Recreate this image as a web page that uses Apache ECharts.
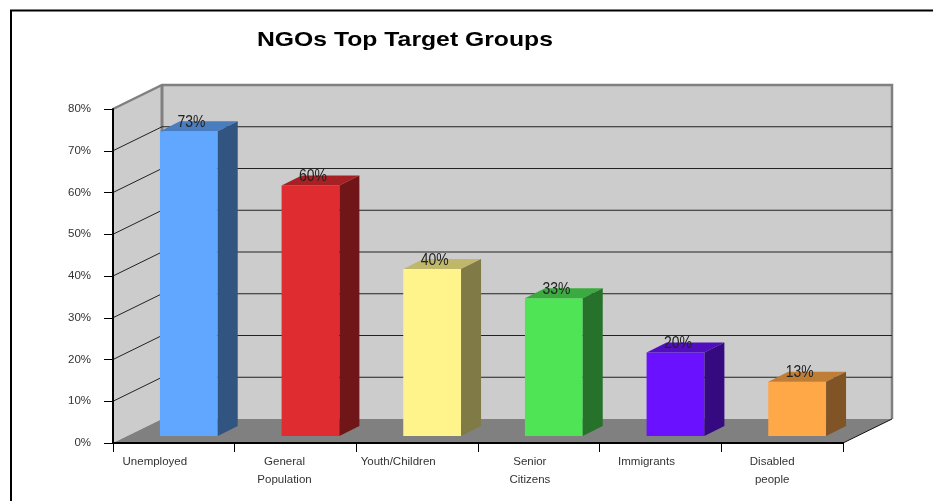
<!DOCTYPE html>
<html>
<head>
<meta charset="utf-8">
<style>
html, body { margin: 0; padding: 0; background: #fff; }
#chart { width: 933px; height: 501px; }
</style>
<script src="https://cdn.jsdelivr.net/npm/echarts@6/dist/echarts.min.js"></script>
</head>
<body>
<div id="chart"></div>
<script>
var categories = ['Unemployed', 'General\nPopulation', 'Youth/Children', 'Senior\nCitizens', 'Immigrants', 'Disabled\npeople'];
var values = [73, 60, 40, 33, 20, 13];
var wallTicks = [10, 20, 30, 40, 50, 60, 70];

var barColors = ['#62a7ff', '#df2c30', '#fff48c', '#4ee455', '#6a12ff', '#ffa847'];
var labelShift = [38, 22, 38, 18, 28, 20];

// fake 3d, all in pixels
var wallDx = 49, wallDy = 24;
var barOffsetX = 15, barOffsetY = 7;
var barDx = 20, barDy = 10;
var font = '"Liberation Sans", Arial, sans-serif';

function poly(points, fill) {
    return { type: 'polygon', shape: { points: points }, style: { fill: fill } };
}

function shade(hex, k) {
    var n = parseInt(hex.slice(1), 16);
    return 'rgb(' + Math.round((n >> 16) * k) + ',' + Math.round(((n >> 8) & 255) * k) + ',' + Math.round((n & 255) * k) + ')';
}

function renderWalls(params, api) {
    var c = params.coordSys;
    var x0 = c.x, x1 = c.x + c.width, top = c.y, bottom = c.y + c.height;
    return {
        type: 'group',
        children: [
            poly([[x0 + wallDx, top - wallDy], [x1 + wallDx, top - wallDy], [x1 + wallDx, bottom - wallDy], [x0 + wallDx, bottom - wallDy]], '#cccccc'),
            poly([[x0, top], [x0 + wallDx, top - wallDy], [x0 + wallDx, bottom - wallDy], [x0, bottom]], '#cccccc'),
            poly([[x0, bottom], [x0 + wallDx, bottom - wallDy], [x1 + wallDx, bottom - wallDy], [x1, bottom]], '#808080'),
            {
                type: 'polyline',
                shape: { points: [[x0, top], [x0 + wallDx, top - wallDy], [x1 + wallDx, top - wallDy], [x1 + wallDx, bottom - wallDy]] },
                style: { stroke: '#808080', lineWidth: 2.5, fill: 'none' }
            },
            {
                type: 'line',
                shape: { x1: x0 + wallDx, y1: top - wallDy, x2: x0 + wallDx, y2: bottom - wallDy },
                style: { stroke: '#808080', lineWidth: 3 }
            },
            {
                type: 'line',
                shape: { x1: x1, y1: bottom, x2: x1 + wallDx, y2: bottom - wallDy },
                style: { stroke: '#111', lineWidth: 1 }
            }
        ]
    };
}

function renderWallLine(params, api) {
    var c = params.coordSys;
    var y = api.coord([0, api.value(1)])[1];
    return {
        type: 'polyline',
        shape: { points: [[c.x, y], [c.x + wallDx, y - wallDy], [c.x + c.width + wallDx, y - wallDy]] },
        style: { stroke: '#222', lineWidth: 1, fill: 'none' }
    };
}

function renderBar(params, api) {
    var i = api.value(0);
    var v = api.value(1);
    var p = api.coord([i, v]);
    var base = api.coord([i, 0]);
    var w = api.size([1, 0])[0] * 0.475;
    var l = p[0] + barOffsetX - w / 2;
    var r = l + w;
    var t = p[1] - barOffsetY;
    var b = base[1] - barOffsetY;
    var color = barColors[i];
    return {
        type: 'group',
        children: [
            poly([[l, t], [r, t], [r, b], [l, b]], color),
            poly([[l, t], [l + barDx, t - barDy], [r + barDx, t - barDy], [r, t]], shade(color, 0.75)),
            poly([[r, t], [r + barDx, t - barDy], [r + barDx, b - barDy], [r, b]], shade(color, 0.5)),
            {
                type: 'text',
                x: (l + r) / 2 + 2.5,
                y: t - 9,
                scaleX: 0.82,
                style: { text: v + '%', font: '17px ' + font, fill: '#222', align: 'center', verticalAlign: 'middle' }
            }
        ]
    };
}

var myChart = echarts.init(document.getElementById('chart'));
var option = {
    animation: false,
    graphic: [
        {
            type: 'polyline',
            shape: { points: [[11, 501], [11, 10.5], [933, 10.5]] },
            style: { stroke: '#000', lineWidth: 2, fill: 'none' },
            silent: true
        },
        {
            type: 'text',
            x: 257,
            y: 40,
            scaleX: 1.178,
            style: { text: 'NGOs Top Target Groups', font: 'bold 21px ' + font, fill: '#000', align: 'left', verticalAlign: 'middle' },
            silent: true
        }
    ],
    grid: { left: 113, top: 109, width: 730, height: 334, containLabel: false },
    xAxis: {
        type: 'category',
        data: categories.map(function (name, i) {
            return { value: name, textStyle: { padding: [0, labelShift[i], 0, 0] } };
        }),
        z: 10,
        axisLine: { lineStyle: { color: '#000', width: 2 } },
        axisTick: { show: true, length: 9, lineStyle: { color: '#000', width: 1 } },
        axisLabel: { interval: 0, margin: 10, color: '#333', fontFamily: font, fontSize: 11.5, lineHeight: 18 }
    },
    yAxis: {
        type: 'value',
        min: 0,
        max: 80,
        interval: 10,
        z: 10,
        axisLine: { show: true, lineStyle: { color: '#000', width: 2 } },
        axisTick: { show: true, length: 9, lineStyle: { color: '#000', width: 1 } },
        axisLabel: { margin: 22, color: '#333', fontFamily: font, fontSize: 11.5, formatter: '{value}%' },
        splitLine: { show: false }
    },
    series: [
        { type: 'custom', silent: true, z: 2, renderItem: renderWalls, data: [[0, 0]] },
        {
            type: 'custom', silent: true, z: 3, renderItem: renderWallLine,
            data: wallTicks.map(function (t) { return [0, t]; })
        },
        {
            type: 'custom', silent: true, z: 4, renderItem: renderBar,
            data: values.map(function (v, i) { return [i, v]; })
        }
    ]
};

myChart.setOption(option);
</script>
</body>
</html>
